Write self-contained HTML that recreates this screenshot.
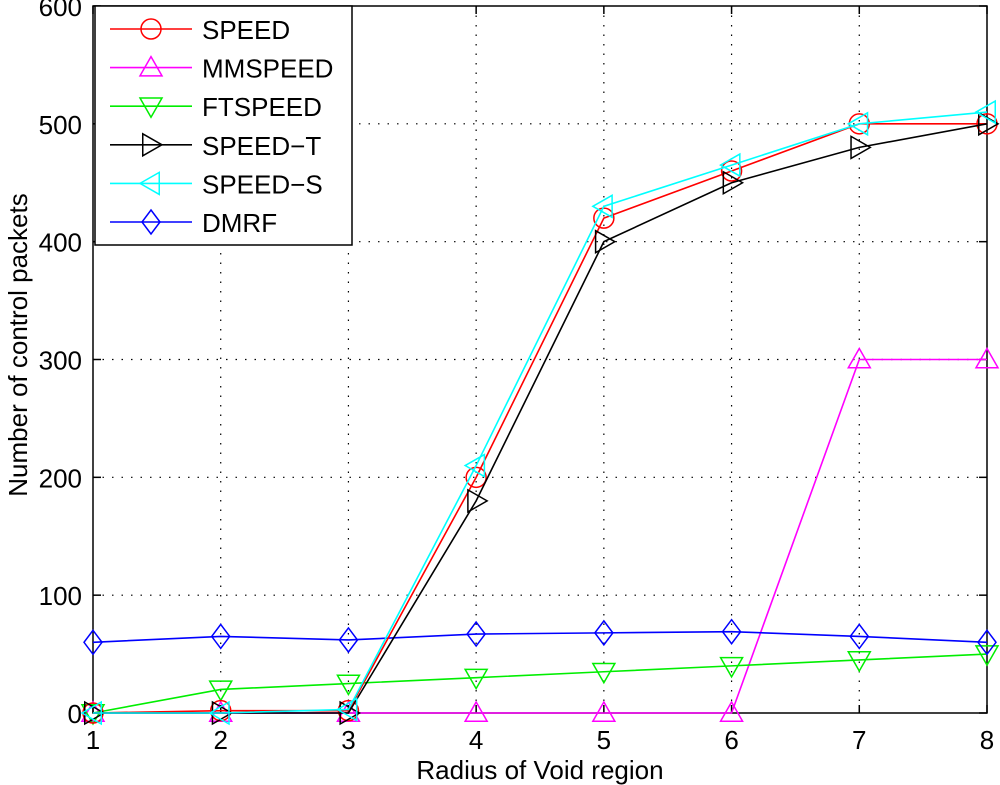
<!DOCTYPE html>
<html><head><meta charset="utf-8"><style>
html,body{margin:0;padding:0;background:#fff;}
svg{display:block;font-family:"Liberation Sans",Arial,sans-serif;}
</style></head><body>
<svg id="chart" width="1000" height="785" viewBox="0 0 1000 785">
<g id="grid"></g>
<g id="axes"></g>
<g id="series"></g>
<g id="legend"></g>
<text x="540" y="779" text-anchor="middle" font-size="26">Radius of Void region</text>
<text transform="translate(27,345) rotate(-90)" text-anchor="middle" font-size="26">Number of control packets</text>
</svg>
<script>
const categories = [1,2,3,4,5,6,7,8];
const yTicks = [0,100,200,300,400,500,600];
const seriesNames = ["SPEED","MMSPEED","FTSPEED","SPEED\u2212T","SPEED\u2212S","DMRF"];
const speed   = [0,2,2,200,420,460,500,500];
const mmspeed = [0,0,0,0,0,0,300,300];
const ftspeed = [0,20,25,30,35,40,45,50];
const speedT  = [0,0,0,180,400,450,480,500];
const speedS  = [0,0,3,210,430,465,500,510];
const dmrf    = [60,65,62,67,68,69,65,60];

const L=93,R=987,T=6,B=713;
const xs=v=>L+(v-1)*(R-L)/7;
const ys=v=>B-v*(B-T)/600;
const NS="http://www.w3.org/2000/svg";
function mk(tag,attrs,parent){const e=document.createElementNS(NS,tag);for(const k in attrs)e.setAttribute(k,attrs[k]);parent.appendChild(e);return e;}
const grid=document.getElementById('grid'),axes=document.getElementById('axes'),ser=document.getElementById('series'),leg=document.getElementById('legend');

categories.forEach(c=>{
  const x=xs(c);
  if(c>1&&c<8){const g=mk('line',{x1:x,x2:x,y1:T,y2:B,stroke:'#000','stroke-width':1.2,'stroke-dasharray':'1.5 8'},grid);
  
  }
  const t=mk('text',{x:x,y:749,'text-anchor':'middle','font-size':26},axes);t.textContent=c;
  
  
  mk('line',{x1:x,x2:x,y1:B,y2:B-8,stroke:'#000','stroke-width':1.5},axes);
  mk('line',{x1:x,x2:x,y1:T,y2:T+8,stroke:'#000','stroke-width':1.5},axes);
});
yTicks.forEach(v=>{
  const y=ys(v);
  if(v>0&&v<600){const g=mk('line',{x1:L,x2:R,y1:y,y2:y,stroke:'#000','stroke-width':1.2,'stroke-dasharray':'1.5 8'},grid);
  
  }
  const t=mk('text',{x:82,y:y+10,'text-anchor':'end','font-size':26},axes);t.textContent=v;
  
  
  mk('line',{x1:L,x2:L+8,y1:y,y2:y,stroke:'#000','stroke-width':1.5},axes);
  mk('line',{x1:R,x2:R-8,y1:y,y2:y,stroke:'#000','stroke-width':1.5},axes);
});
const frame=mk('rect',{x:L,y:T,width:R-L,height:B-T,fill:'none',stroke:'#000','stroke-width':1.5},axes);



function marker(type,x,y,color,parent){
  const s=11;let e;
  if(type==='o') e=mk('circle',{cx:x,cy:y,r:10},parent);
  else if(type==='^') e=mk('polygon',{points:`${x},${y-s} ${x-s},${y+s*0.75} ${x+s},${y+s*0.75}`},parent);
  else if(type==='v') e=mk('polygon',{points:`${x},${y+s} ${x-s},${y-s*0.75} ${x+s},${y-s*0.75}`},parent);
  else if(type==='>') e=mk('polygon',{points:`${x+s},${y} ${x-s*0.75},${y-s} ${x-s*0.75},${y+s}`},parent);
  else if(type==='<') e=mk('polygon',{points:`${x-s},${y} ${x+s*0.75},${y-s} ${x+s*0.75},${y+s}`},parent);
  else e=mk('polygon',{points:`${x},${y-12} ${x+9},${y} ${x},${y+12} ${x-9},${y}`},parent);
  e.setAttribute('fill','none');e.setAttribute('stroke',color);e.setAttribute('stroke-width',1.5);
  return e;
}
const all=[[speed,'#ff0000','o'],[mmspeed,'#ff00ff','^'],[ftspeed,'#00ee00','v'],[speedT,'#000000','>'],[speedS,'#00ffff','<'],[dmrf,'#0000ff','d']];
const draw=[1,2,5,0,3,4];
draw.forEach(i=>{
  const [vals,col,m]=all[i];
  const g=mk('g',{},ser);
  
  
  mk('polyline',{points:vals.map((v,j)=>xs(categories[j])+','+ys(v)).join(' '),fill:'none',stroke:col,'stroke-width':1.6},g);
  vals.forEach((v,j)=>{const p=marker(m,xs(categories[j]),ys(v),col,g);
    
    });
});
const box=mk('rect',{x:95,y:6,width:257,height:239,fill:'#fff',stroke:'#000','stroke-width':1.5},leg);


all.forEach((s,i)=>{
  const y=29+i*38.6;
  const g=mk('g',{},leg);
  
  
  mk('line',{x1:110,x2:192,y1:y,y2:y,stroke:s[1],'stroke-width':1.6},g);
  marker(s[2],151,y,s[1],g);
  const t=mk('text',{x:202,y:y+10,'font-size':26},g);t.textContent=seriesNames[i];
});
</script>
</body></html>
